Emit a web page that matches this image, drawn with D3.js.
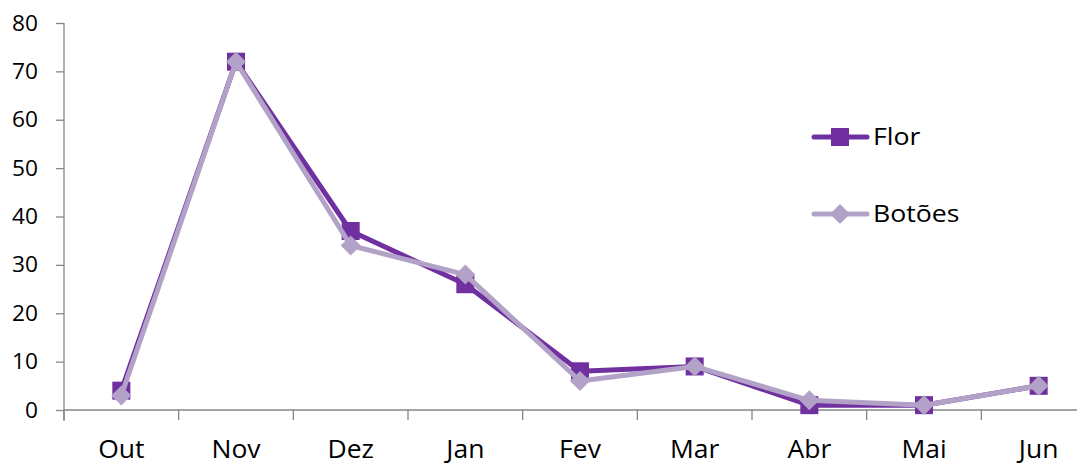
<!DOCTYPE html>
<html>
<head>
<meta charset="utf-8">
<script src="https://cdn.jsdelivr.net/npm/d3@7"></script>
<style>
  html, body { margin: 0; padding: 0; background: #fff; }
  svg { display: block; }
  text { font-family: "Open Sans", "Noto Sans", sans-serif; fill: #000; }
</style>
</head>
<body>
<svg id="chart" width="1077" height="467"></svg>
<script>
// Monthly counts of flowers and buds
const months = ["Out", "Nov", "Dez", "Jan", "Fev", "Mar", "Abr", "Mai", "Jun"];
const flor = [4, 72, 37, 26, 8, 9, 1, 1, 5];
const botoes = [3, 72, 34, 28, 6, 9, 2, 1, 5];
const yTicks = [0, 10, 20, 30, 40, 50, 60, 70, 80];
const seriesNames = ["Flor", "Botões"];

const svg = d3.select("#chart");
const axisColor = "#868686";
const colFlor = "#7030A0";
const colBot = "#B3A2C7";
const stretch = 1.16; // wide lettering

const x = d3.scaleBand().domain(months).range([64, 1096]);
const y = d3.scaleLinear().domain([0, 80]).range([410, 23]);

// places a horizontally widened label
function label(g, tx, ty, str, size, anchor, sx) {
  return g.append("text")
    .attr("transform", `translate(${tx},${ty}) scale(${sx},1)`)
    .attr("text-anchor", anchor)
    .style("font-size", size + "px")
    .text(str);
}

// y axis
const yAxis = svg.append("g").attr("transform", "translate(64,0)")
  .call(d3.axisLeft(y).tickValues(yTicks).tickSize(8).tickFormat(""));
yAxis.select(".domain").attr("stroke", axisColor).attr("stroke-width", 1.3)
  .attr("d", `M0,${y(80)}V${y(0) + 11}`);
yAxis.selectAll(".tick line").attr("stroke", axisColor).attr("stroke-width", 1.3);
yTicks.forEach(t => {
  label(svg, 38, y(t) + 7.5, String(t), 21, "end", 1.08);
});

// x axis with ticks at category boundaries
const xg = svg.append("g").attr("transform", `translate(0,${y(0)})`);
xg.append("line").attr("x1", 64).attr("x2", 1096).attr("y1", 0).attr("y2", 0)
  .attr("stroke", axisColor).attr("stroke-width", 1.3);
const bounds = months.map(m => x(m)).concat([x.range()[1]]);
xg.selectAll("line.tk").data(bounds).enter().append("line")
  .attr("class", "tk")
  .attr("x1", d => d).attr("x2", d => d).attr("y1", 0).attr("y2", 10)
  .attr("stroke", axisColor).attr("stroke-width", 1.3);
months.forEach(m => {
  label(xg, x(m) + x.bandwidth() / 2, 48, m, 25, "middle", 1.06);
});

const cx = (d, i) => x(months[i]) + x.bandwidth() / 2;
const line = d3.line().x((d, i) => cx(d, i)).y(d => y(d));

// Flor series
svg.append("path").datum(flor).attr("d", line)
  .attr("fill", "none").attr("stroke", colFlor).attr("stroke-width", 5)
  .attr("stroke-linejoin", "round");
svg.selectAll("rect.flor").data(flor).enter().append("rect")
  .attr("class", "flor")
  .attr("x", (d, i) => cx(d, i) - 9).attr("y", d => y(d) - 9)
  .attr("width", 18).attr("height", 18).attr("fill", colFlor);

// Botões series
svg.append("path").datum(botoes).attr("d", line)
  .attr("fill", "none").attr("stroke", colBot).attr("stroke-width", 5)
  .attr("stroke-linejoin", "round");
const diamond = s => `M0,${-s}L${s},0L0,${s}L${-s},0Z`;
svg.selectAll("path.bot").data(botoes).enter().append("path")
  .attr("class", "bot")
  .attr("transform", (d, i) => `translate(${cx(d, i)},${y(d)})`)
  .attr("d", diamond(10)).attr("fill", colBot);

// legend
const legend = svg.append("g");
const legendRows = [
  { name: seriesNames[0], color: colFlor, shape: "square", yPos: 137 },
  { name: seriesNames[1], color: colBot, shape: "diamond", yPos: 214 }
];
legendRows.forEach(r => {
  legend.append("line").attr("x1", 814).attr("x2", 867)
    .attr("y1", r.yPos).attr("y2", r.yPos)
    .attr("stroke", r.color).attr("stroke-width", 5).attr("stroke-linecap", "round");
  if (r.shape === "square") {
    legend.append("rect").attr("x", 831).attr("y", r.yPos - 9)
      .attr("width", 18).attr("height", 18).attr("fill", r.color);
  } else {
    legend.append("path").attr("transform", `translate(840,${r.yPos})`)
      .attr("d", diamond(10)).attr("fill", r.color);
  }
  label(legend, 873, r.yPos + 8.3, r.name, 23, "start", stretch);
});
</script>
</body>
</html>
